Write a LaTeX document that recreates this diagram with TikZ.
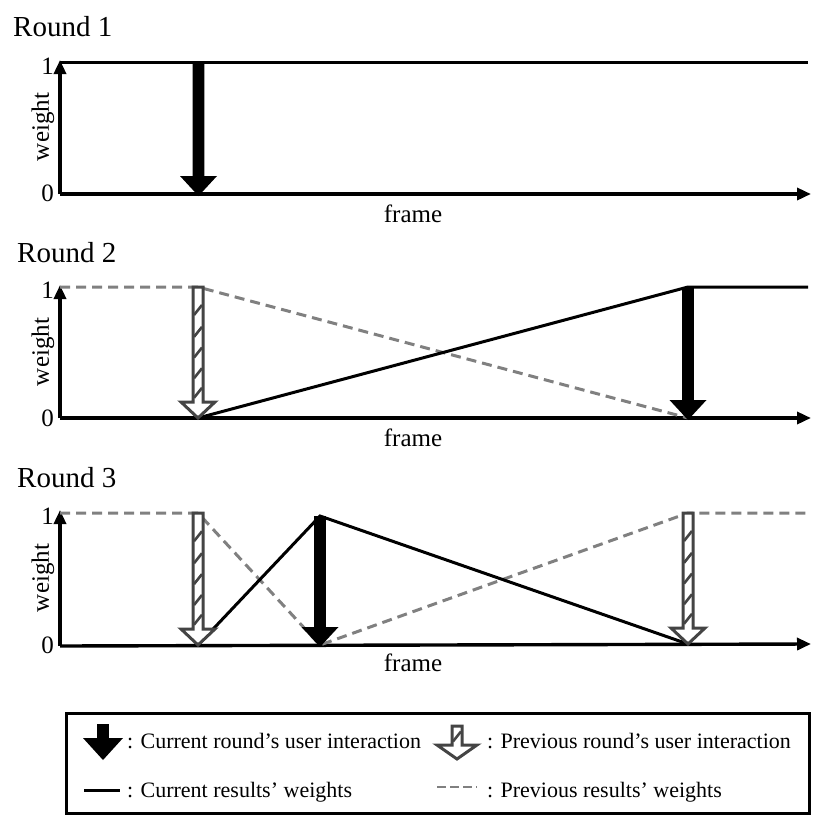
\documentclass[tikz,border=0pt]{standalone}
\usepackage{fontspec}
\setmainfont{Liberation Serif}
\usetikzlibrary{arrows.meta}
\definecolor{pg}{RGB}{128,128,128}
\definecolor{hg}{RGB}{68,68,68}
\newcommand{\fsz}[1]{\fontsize{#1}{#1}\selectfont}
% black (current) interaction arrow: x, ytop, ytip, head length, head half width
\newcommand{\curarr}[5]{%
  \fill[black] ({#1-5.8},#2) -- ({#1+5.8},#2) -- ({#1+5.8},{#3-#4}) -- ({#1+#5},{#3-#4})
    -- (#1,#3) -- ({#1-#5},{#3-#4}) -- ({#1-5.8},{#3-#4}) -- cycle;}
% hatched (previous) interaction arrow: x, ytop, ytip, head length, head half width, hatch fractions
\newcommand{\prevarr}[6]{%
  \draw[hg, line width=3pt, fill=white, line join=miter]
    ({#1-5},#2) -- ({#1+5},#2) -- ({#1+5},{#3-#4}) -- ({#1+#5},{#3-#4})
    -- (#1,{#3-1}) -- ({#1-#5},{#3-#4}) -- ({#1-5},{#3-#4}) -- cycle;
  \foreach \f in {#6}{
    \draw[hg, line width=2.6pt]
      ({#1-4},{#2+\f*(#3-#4-#2)+5}) -- ({#1+4},{#2+\f*(#3-#4-#2)-5});
  }}
\tikzset{
  axis/.style={line width=3.4pt, -{Triangle[length=14pt,width=12pt]}},
  cur/.style={black, line width=3pt},
  prev/.style={pg, line width=3pt, dash pattern=on 10pt off 6pt},
  ttl/.style={font=\fsz{29}, anchor=west, inner sep=0pt},
  lab/.style={font=\fsz{25}, inner sep=0pt},
  leg/.style={font=\fsz{22}, anchor=base west, inner sep=0pt},
}
\begin{document}
\begin{tikzpicture}[x=1pt,y=-1pt]
\useasboundingbox (0,0) rectangle (830,830);

% ---------------- Round 1 ----------------
\node[ttl] (t1) at (13,27) {Round 1};
\coordinate (o1) at (60,194);
\coordinate (y1) at (60,60);
\coordinate (x1) at (811,194);
\draw[axis] (o1) -- (y1);
\draw[axis] (o1) -- (x1);
\node[lab, anchor=east] (one1) at (54,66) {1};
\node[lab, anchor=east] (zero1) at (54,193) {0};
\node[lab, rotate=90] (w1) at (43,127) {weight};
\node[lab] (f1) at (413,214) {frame};
\coordinate (a1) at (60,62);
\coordinate (b1) at (808,62);
\draw[cur] (a1) -- (b1);
\curarr{198.5}{62}{196}{20}{18.5}

% ---------------- Round 2 ----------------
\node[ttl] (t2) at (17,253) {Round 2};
\coordinate (o2) at (60,418);
\coordinate (y2) at (60,285);
\coordinate (x2) at (811,418);
\draw[axis] (o2) -- (y2);
\draw[axis] (o2) -- (x2);
\node[lab, anchor=east] (one2) at (54,290) {1};
\node[lab, anchor=east] (zero2) at (54,418) {0};
\node[lab, rotate=90] (w2) at (43,352) {weight};
\node[lab] (f2) at (413,438) {frame};
\coordinate (p2a) at (60,287);
\coordinate (p2b) at (198,287);
\coordinate (p2c) at (688,418);
\draw[prev] (p2a) -- (p2b) -- (p2c);
\coordinate (c2a) at (198,418);
\coordinate (c2b) at (688,287);
\coordinate (c2c) at (808,287);
\draw[cur] (c2a) -- (c2b) -- (c2c);
\prevarr{198}{287}{419}{17}{17}{0.2,0.39,0.57,0.75,0.92}
\curarr{688}{287}{420}{20}{18.5}

% ---------------- Round 3 ----------------
\node[ttl] (t3) at (17,478) {Round 3};
\coordinate (o3) at (60,646);
\coordinate (y3) at (60,510);
\coordinate (x3) at (811,644);
\draw[axis] (o3) -- (y3);
\draw[axis] (o3) -- (x3);
\node[lab, anchor=east] (one3) at (54,516) {1};
\node[lab, anchor=east] (zero3) at (54,645) {0};
\node[lab, rotate=90] (w3) at (43,578) {weight};
\node[lab] (f3) at (413,663) {frame};
\coordinate (p3a) at (60,513);
\coordinate (p3b) at (198,513);
\coordinate (p3c) at (320,645);
\coordinate (p3d) at (688,513);
\coordinate (p3e) at (808,513);
\draw[prev] (p3a) -- (p3b) -- (p3c) -- (p3d) -- (p3e);
\coordinate (c3a) at (198,645);
\coordinate (c3b) at (320,516);
\coordinate (c3c) at (688,644);
\draw[cur] (c3a) -- (c3b) -- (c3c);
\prevarr{198}{513}{646}{17}{17}{0.2,0.39,0.57,0.75,0.92}
\prevarr{688}{513}{645}{17}{17}{0.2,0.39,0.57,0.75,0.92}
\curarr{320}{516}{647}{20}{18.5}

% ---------------- Legend ----------------
\node[draw, line width=3pt, minimum width=743pt, minimum height=100pt, anchor=north west, inner sep=0pt] (legend) at (65,712) {};
\curarr{103}{724}{760}{22}{20}
\node[leg] (l1) at (127,748) {: Current round’s user interaction};
\prevarr{457}{726}{760}{15}{20}{0.55}
\node[leg] (l2) at (487,748) {: Previous round’s user interaction};
\coordinate (ls1) at (84,790);
\coordinate (ls2) at (120,790);
\draw[cur] (ls1) -- (ls2);
\node[leg] (l3) at (127,797) {: Current results’ weights};
\coordinate (lp1) at (437,787);
\coordinate (lp2) at (477,787);
\draw[pg, line width=2.6pt, dash pattern=on 9pt off 4pt] (lp1) -- (lp2);
\node[leg] (l4) at (487,797) {: Previous results’ weights};
\end{tikzpicture}
\end{document}
